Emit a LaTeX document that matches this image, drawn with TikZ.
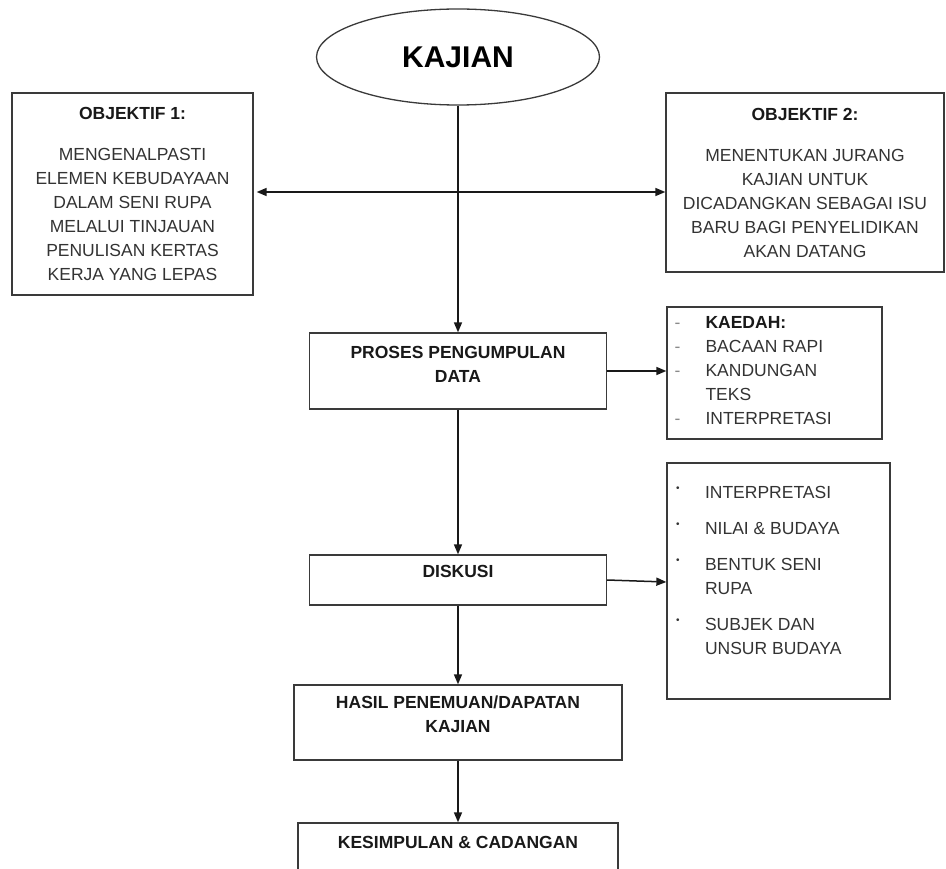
\documentclass[tikz,border=0pt]{standalone}
\usepackage{fontspec}
\setmainfont{Liberation Sans}
\usetikzlibrary{shapes.geometric,arrows.meta,positioning}
\definecolor{txtgray}{HTML}{333333}
\definecolor{linegray}{HTML}{3A3A3A}
\definecolor{dashgray}{HTML}{8A8A8A}
\newcommand{\dsh}{\makebox[31pt][l]{\textcolor{dashgray}{-}}}
\newcommand{\blt}{\makebox[29pt][l]{\raisebox{7pt}{\fontsize{10}{10}\selectfont\textcolor{txtgray}{•}}}}
\newcommand{\hd}[1]{\textcolor{black!90}{\textbf{#1}}}

\begin{document}
\begin{tikzpicture}[x=1pt,y=-1pt,>={Triangle[length=10pt,width=8pt]},
    box/.style={draw=linegray, line width=1.3pt, rectangle, inner sep=0pt},
    body/.style={font=\fontsize{17.5}{24}\selectfont, text=txtgray, inner sep=0pt},
    head/.style={font=\fontsize{17.5}{24}\selectfont\bfseries, text=black!90, inner sep=0pt, align=center},
    link/.style={line width=1.5pt, black!90}]
    \useasboundingbox (0,0) rectangle (946,869);

    % top
    \node[draw=linegray, line width=1.3pt, ellipse, minimum width=283pt, minimum height=96pt, inner sep=0pt,
          font=\fontsize{30}{30}\selectfont\bfseries] (kajian) at (458,57) {KAJIAN};

    % objektif
    \node[box, body, align=center, minimum width=241pt, minimum height=202pt] (obj1) at (132.5,194)
        {\hd{OBJEKTIF 1:}\\[17pt] MENGENALPASTI\\ ELEMEN KEBUDAYAAN\\ DALAM SENI RUPA\\ MELALUI TINJAUAN\\ PENULISAN KERTAS\\ KERJA YANG LEPAS};
    \node[box, body, align=center, minimum width=278pt, minimum height=179pt] (obj2) at (805,182.5)
        {\hd{OBJEKTIF 2:}\\[17pt] MENENTUKAN JURANG\\ KAJIAN UNTUK\\ DICADANGKAN SEBAGAI ISU\\ BARU BAGI PENYELIDIKAN\\ AKAN DATANG};
    \coordinate (mid) at (458,192);

    % main flow
    \node[box, minimum width=297pt, minimum height=76pt] (proses) at (458,371) {};
    \node[head, below=13.7pt of proses.north] (prosestxt) {PROSES PENGUMPULAN\\DATA};
    \node[box, minimum width=297pt, minimum height=50pt] (diskusi) at (458,580) {};
    \node[head, below=10.7pt of diskusi.north] (diskusitxt) {DISKUSI};
    \node[box, minimum width=328pt, minimum height=75pt] (hasil) at (458,722.5) {};
    \node[head, below=11.7pt of hasil.north] (hasiltxt) {HASIL PENEMUAN/DAPATAN\\KAJIAN};
    \node[box, minimum width=320pt, minimum height=76pt] (simpul) at (458,861) {};
    \node[head, below=13.7pt of simpul.north] (simpultxt) {KESIMPULAN \& CADANGAN};

    % side lists
    \node[box, minimum width=215pt, minimum height=132pt] (kaedah) at (774.5,373) {};
    \node[body, align=left, below right=9.7pt and 8pt of kaedah.north west] (kaedahtxt)
        {\dsh\hd{KAEDAH:}\\ \dsh BACAAN RAPI\\ \dsh KANDUNGAN\\ \hspace*{31pt}TEKS\\ \dsh INTERPRETASI};
    \node[box, minimum width=223pt, minimum height=236pt] (nilai) at (778.5,581) {};
    \node[body, align=left, below right=23.7pt and 9.5pt of nilai.north west] (nilaitxt)
        {\blt INTERPRETASI\\[12pt] \blt NILAI \& BUDAYA\\[12pt] \blt BENTUK SENI\\ \hspace*{29pt}RUPA\\[12pt]
         \blt SUBJEK DAN\\ \hspace*{29pt}UNSUR BUDAYA};
    \coordinate (nilaiin) at (nilai.west |- diskusi.east);

    % connectors
    \draw[link, <->, shorten <=3pt] (obj1.east |- mid) -- (obj2.west |- mid);
    \draw[link, ->] (kajian) -- (proses);
    \draw[link, ->] (proses) -- (diskusi);
    \draw[link, ->] (diskusi) -- (hasil);
    \draw[link, ->] (hasil) -- (simpul);
    \draw[link, ->] (proses.east) -- (proses.east -| kaedah.west);
    \draw[link, ->] (diskusi.east) -- ([yshift=-2pt]nilaiin);
\end{tikzpicture}
\end{document}
